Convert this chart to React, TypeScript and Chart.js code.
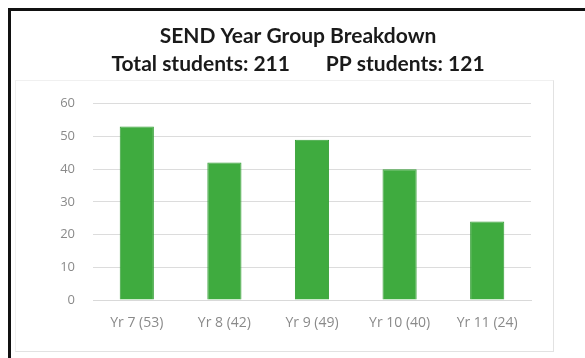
import React, { useEffect, useRef } from "react";
import { Chart, registerables } from "chart.js";

Chart.register(...registerables);

const categories = ["Yr 7 (53)", "Yr 8 (42)", "Yr 9 (49)", "Yr 10 (40)", "Yr 11 (24)"];
const students = [53, 42, 49, 40, 24];
const yMin = 0;
const yMax = 60;
const yStep = 10;
const titleLines = [
  "SEND Year Group Breakdown",
  "Total students: 211\u00a0\u00a0\u00a0\u00a0\u00a0\u00a0\u00a0PP students: 121",
];

const TITLE_FONT = 'Lato, "Open Sans", "DejaVu Sans", sans-serif';
const TICK_FONT = '"Open Sans", Lato, "DejaVu Sans", sans-serif';
const CANVAS_W = 574;
const CANVAS_H = 347;

export default function App() {
  const ref = useRef<HTMLCanvasElement | null>(null);

  useEffect(() => {
    if (!ref.current) return;
    const chart = new Chart(ref.current, {
      type: "bar",
      data: {
        labels: categories,
        datasets: [
          {
            data: students,
            backgroundColor: "#3fab3f",
            borderColor: "#359e36",
            borderWidth: 1,
            barPercentage: 0.39,
            categoryPercentage: 1,
            yAxisID: "y",
          },
        ],
      },
      options: {
        animation: false,
        responsive: false,
        devicePixelRatio: 1,
        layout: { padding: { top: 0, left: 0, right: 0, bottom: 0 } },
        plugins: {
          legend: { display: false },
          tooltip: { enabled: false },
          title: {
            display: true,
            text: titleLines,
            color: "#1a1a1a",
            font: { family: TITLE_FONT, size: 21, weight: "bold", lineHeight: 1.35 },
            padding: { top: 11, bottom: 25 },
          },
        },
        scales: {
          x: {
            grid: { display: false, drawTicks: false },
            border: { display: true, color: "#d9d9d9", width: 1 },
            ticks: {
              color: "#8a8a8a",
              font: { family: TICK_FONT, size: 14 },
              padding: 15,
              maxRotation: 0,
              autoSkip: false,
            },
            afterFit: (scale: any) => {
              scale.height = 58;
            },
          },
          y: {
            min: yMin,
            max: yMax,
            position: "left",
            grid: { color: "#dcdcdc", drawTicks: false, lineWidth: 1 },
            border: { display: false },
            ticks: {
              stepSize: yStep,
              color: "#8a8a8a",
              font: { family: TICK_FONT, size: 13 },
              padding: 18,
            },
            afterFit: (scale: any) => {
              scale.width = 82;
            },
          },
          yRight: {
            type: "linear",
            position: "right",
            display: true,
            grid: { display: false, drawTicks: false },
            border: { display: false },
            ticks: { display: false },
            afterFit: (scale: any) => {
              scale.width = 54;
            },
          },
        },
      },
    });
    return () => chart.destroy();
  }, []);

  return (
    <div
      style={{
        position: "fixed",
        left: 8,
        top: 8,
        right: 0,
        bottom: 0,
        borderTop: "3px solid #111",
        borderLeft: "3px solid #111",
        background: "#fff",
        overflow: "hidden",
      }}
    >
      <div
        style={{
          position: "absolute",
          left: 4,
          top: 69,
          width: 537,
          height: 270,
          borderTop: "1px solid #f0f0f0",
          borderLeft: "1px solid #f0f0f0",
          borderRight: "1px solid #e2e2e2",
          borderBottom: "1px solid #e2e2e2",
        }}
      />
      <canvas
        ref={ref}
        width={CANVAS_W}
        height={CANVAS_H}
        style={{ position: "absolute", left: 0, top: 0, width: CANVAS_W, height: CANVAS_H }}
      />
    </div>
  );
}
